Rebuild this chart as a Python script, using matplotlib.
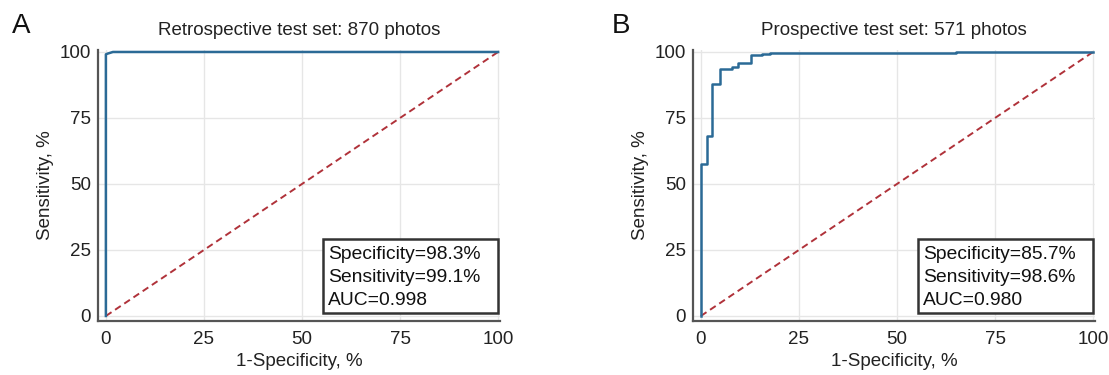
import matplotlib.pyplot as plt
from matplotlib.patches import Rectangle

plt.rcParams['font.family'] = ['Liberation Sans', 'DejaVu Sans']

# ROC-кривые (в процентах)
retro_fpr = [0, 0, 0.5, 1.8, 100]
retro_tpr = [0, 99.1, 99.4, 100, 100]

pro_fpr = [0, 0, 1.5, 1.5, 2.9, 2.9, 4.9, 4.9, 8.0, 8.0, 9.5, 9.5, 12.7, 12.7,
           15.5, 15.5, 17.6, 17.6, 65.0, 65.0, 100]
pro_tpr = [0, 57.6, 57.6, 68.0, 68.0, 87.7, 87.7, 93.4, 93.4, 94.4, 94.4, 96.0, 96.0, 98.9,
           98.9, 99.2, 99.2, 99.7, 99.7, 100, 100]

titles = ["Retrospective test set: 870 photos", "Prospective test set: 571 photos"]
letters = ["A", "B"]
stats = ["Specificity=98.3%\nSensitivity=99.1%\nAUC=0.998",
         "Specificity=85.7%\nSensitivity=98.6%\nAUC=0.980"]
ticks = [0, 25, 50, 75, 100]

curve_color = '#2b6a96'
diag_color = '#b0323a'
spine_color = '#555555'
text_color = '#222222'

fig = plt.figure(figsize=(11.09, 3.75), dpi=100)
lefts = [0.0884, 0.6249]
letter_x = [0.0105, 0.5515]
curves = [(retro_fpr, retro_tpr), (pro_fpr, pro_tpr)]

for i in range(2):
    ax = fig.add_axes([lefts[i], 0.144, 0.3625, 0.7227])
    ax.set_xlim(-2.0, 100.5)
    ax.set_ylim(-1.9, 100.75)
    ax.set_xticks(ticks)
    ax.set_yticks(ticks)
    ax.grid(color='#e6e6e6', linewidth=1.0)
    ax.set_axisbelow(True)
    for s in ['top', 'right']:
        ax.spines[s].set_visible(False)
    for s in ['left', 'bottom']:
        ax.spines[s].set_color(spine_color)
        ax.spines[s].set_linewidth(1.6)
    ax.tick_params(length=0, labelsize=13.5, colors=text_color)
    ax.tick_params(axis='y', pad=5)
    ax.tick_params(axis='x', pad=7)

    ax.plot([0, 100], [0, 100], '--', color=diag_color, linewidth=1.4, dashes=(3.5, 2.2))  # диагональ
    ax.plot(curves[i][0], curves[i][1], color=curve_color, linewidth=1.8)  # ROC-кривая

    ax.set_title(titles[i], fontsize=13.5, pad=11, color=text_color)
    ax.set_xlabel("1-Specificity, %", fontsize=13.5, color=text_color, labelpad=4)
    ax.set_ylabel("Sensitivity, %", fontsize=13.5, color=text_color)

    # рамка со статистикой
    ax.add_patch(Rectangle((55.4, 1.1), 44.6, 28.1, facecolor='white', edgecolor='#333333',
                           linewidth=1.8, zorder=5))
    ax.text(56.6, 14.6, stats[i], ha='left', va='center', fontsize=13.9, linespacing=1.43,
            color='#111111', zorder=6)
    fig.text(letter_x[i], 0.912, letters[i], fontsize=20, color='#111111', va='baseline')

fig.savefig('out.png', dpi=100)
